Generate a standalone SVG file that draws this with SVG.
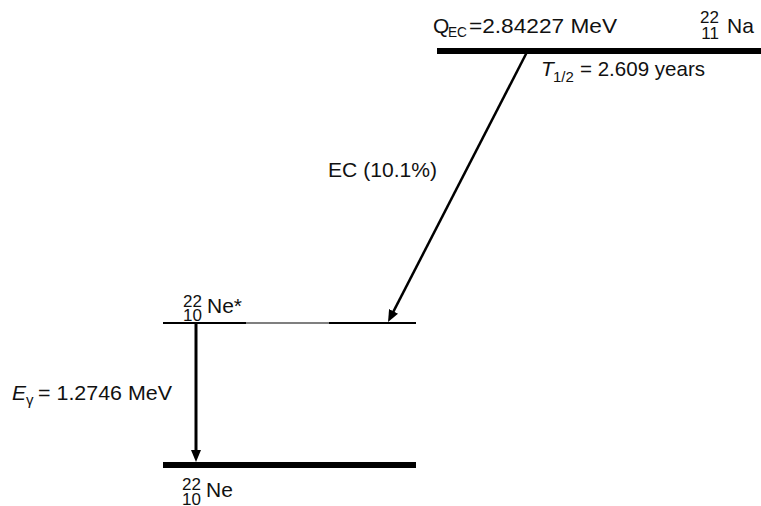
<svg xmlns="http://www.w3.org/2000/svg" width="761" height="506" viewBox="0 0 761 506">
<style>
  text { font-family: "Liberation Sans", Arial, sans-serif; fill: #111; }
  .big { font-size: 21px; }
  .sm { font-size: 15px; }
  .nuc { font-size: 17px; }
  .it { font-style: italic; }
  .lvl { stroke: #000; fill: none; }
  .arr { stroke: #000; fill: none; }
</style>
<defs>
  <marker id="ah" viewBox="0 0 12 10" refX="4" refY="5" markerWidth="12" markerHeight="10" markerUnits="userSpaceOnUse" orient="auto">
    <path d="M0,0 L12,5 L0,10 z" fill="#000"/>
  </marker>
</defs>

<g id="na22">
  <line class="lvl" x1="437" y1="51" x2="761" y2="51" stroke-width="6"/>
  <text class="big" x="433" y="33">Q</text>
  <text class="sm" x="448" y="37" textLength="19" lengthAdjust="spacingAndGlyphs">EC</text>
  <text class="big" x="469" y="33" textLength="148" lengthAdjust="spacingAndGlyphs">=2.84227 MeV</text>
  <text class="nuc" x="719" y="23" text-anchor="end">22</text>
  <text class="nuc" x="719" y="39" text-anchor="end">11</text>
  <text class="big" x="727" y="33">Na</text>
  <text class="big it" x="541" y="76">T</text>
  <text class="sm" x="553" y="82">1/2</text>
  <text class="big" x="580" y="76" textLength="125" lengthAdjust="spacingAndGlyphs">= 2.609 years</text>
</g>

<g id="ne22x">
  <line class="lvl" x1="163" y1="323" x2="246" y2="323" stroke-width="2"/>
  <line x1="246" y1="323" x2="329" y2="323" stroke="#555" stroke-width="1.5"/>
  <line class="lvl" x1="329" y1="323" x2="416" y2="323" stroke-width="2"/>
  <text class="nuc" x="202" y="307" text-anchor="end">22</text>
  <text class="nuc" x="202" y="321" text-anchor="end">10</text>
  <text class="big" x="207" y="313">Ne*</text>
</g>

<g id="ne22">
  <line class="lvl" x1="163" y1="465" x2="416" y2="465" stroke-width="6"/>
  <text class="nuc" x="201" y="490" text-anchor="end">22</text>
  <text class="nuc" x="201" y="505" text-anchor="end">10</text>
  <text class="big" x="206" y="497">Ne</text>
</g>

<g id="connectors">
  <line class="arr" x1="527" y1="52" x2="391.7" y2="314.9" stroke-width="2.5" marker-end="url(#ah)"/>
  <text class="big" x="328" y="177" textLength="109" lengthAdjust="spacingAndGlyphs">EC (10.1%)</text>
  <line class="arr" x1="196" y1="324" x2="196" y2="454" stroke-width="3" marker-end="url(#ah)"/>
  <text class="big it" x="12" y="400">E</text>
  <text class="sm" x="26" y="405">γ</text>
  <text class="big" x="38" y="400" textLength="134" lengthAdjust="spacingAndGlyphs">= 1.2746 MeV</text>
</g>
</svg>
